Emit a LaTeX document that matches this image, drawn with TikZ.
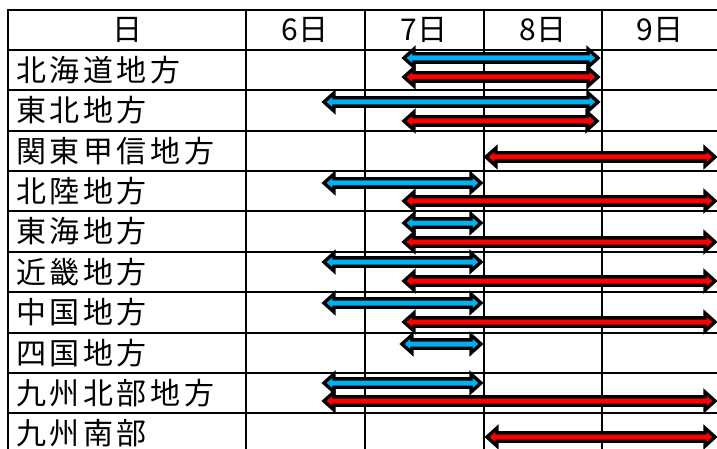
\documentclass[tikz,border=0pt]{standalone}
\usepackage{fontspec}
\newfontfamily\jpfont{Noto Sans CJK JP}[LetterSpace=12]
\newfontfamily\jphfont{Noto Sans CJK JP}
\definecolor{arrblue}{HTML}{00B0F0}
\definecolor{arrred}{HTML}{FF0000}
\newcommand\garrow[4]{%
  \filldraw[arrowshape, fill=#4]
    (#1,#3) -- ({#1+10},{#3-9}) -- ({#1+10},{#3-4.2}) -- ({#2-10},{#3-4.2})
    -- ({#2-10},{#3-9}) -- (#2,#3) -- ({#2-10},{#3+9}) -- ({#2-10},{#3+4.2})
    -- ({#1+10},{#3+4.2}) -- ({#1+10},{#3+9}) -- cycle;}
\begin{document}
\begin{tikzpicture}[x=1pt,y=-1pt,
  gridline/.style={line width=2.8pt, black},
  arrowshape/.style={line width=3.4pt, draw=black, line join=miter},
  lbl/.style={anchor=west, inner sep=0pt, font=\jpfont\fontsize{30}{30}\selectfont},
  hdr/.style={anchor=center, inner sep=0pt, font=\jphfont\fontsize{30}{30}\selectfont}]
\useasboundingbox (0,0) rectangle (717,449);
\fill[white] (0,0) rectangle (717,449);
% grid
\foreach \yy in {10,50,90,131,171,211,252,292,333,373,413}
  \draw[gridline] (8,\yy) -- (719,\yy);
\foreach \xx in {8,246,365,484,602}
  \draw[gridline] (\xx,8.6) -- (\xx,452);
% header
\node[hdr] (h0) at (127,30) {日};
\node[hdr] (h6) at (305,30) {6日};
\node[hdr] (h7) at (424,30) {7日};
\node[hdr] (h8) at (543,30) {8日};
\node[hdr] (h9) at (660,30) {9日};
% row labels
\node[lbl] (r1) at (16,70) {北海道地方};
\node[lbl] (r2) at (16,110.5) {東北地方};
\node[lbl] (r3) at (16,151) {関東甲信地方};
\node[lbl] (r4) at (16,191) {北陸地方};
\node[lbl] (r5) at (16,231.5) {東海地方};
\node[lbl] (r6) at (16,272) {近畿地方};
\node[lbl] (r7) at (16,312.5) {中国地方};
\node[lbl] (r8) at (16,353) {四国地方};
\node[lbl] (r9) at (16,393) {九州北部地方};
\node[lbl] (r10) at (16,433) {九州南部};
% arrows
\garrow{404}{598}{58}{arrblue}
\garrow{404}{598}{77}{arrred}
\garrow{324}{598}{102}{arrblue}
\garrow{404}{597}{121}{arrred}
\garrow{486}{715}{157}{arrred}
\garrow{324}{481}{183}{arrblue}
\garrow{404}{715}{201}{arrred}
\garrow{404}{481}{223}{arrblue}
\garrow{404}{715}{242}{arrred}
\garrow{324}{481}{262}{arrblue}
\garrow{404}{715}{281}{arrred}
\garrow{324}{481}{303}{arrblue}
\garrow{404}{715}{322}{arrred}
\garrow{402}{481}{344}{arrblue}
\garrow{324}{481}{383}{arrblue}
\garrow{324}{715}{401}{arrred}
\garrow{487}{715}{437}{arrred}
\end{tikzpicture}
\end{document}
